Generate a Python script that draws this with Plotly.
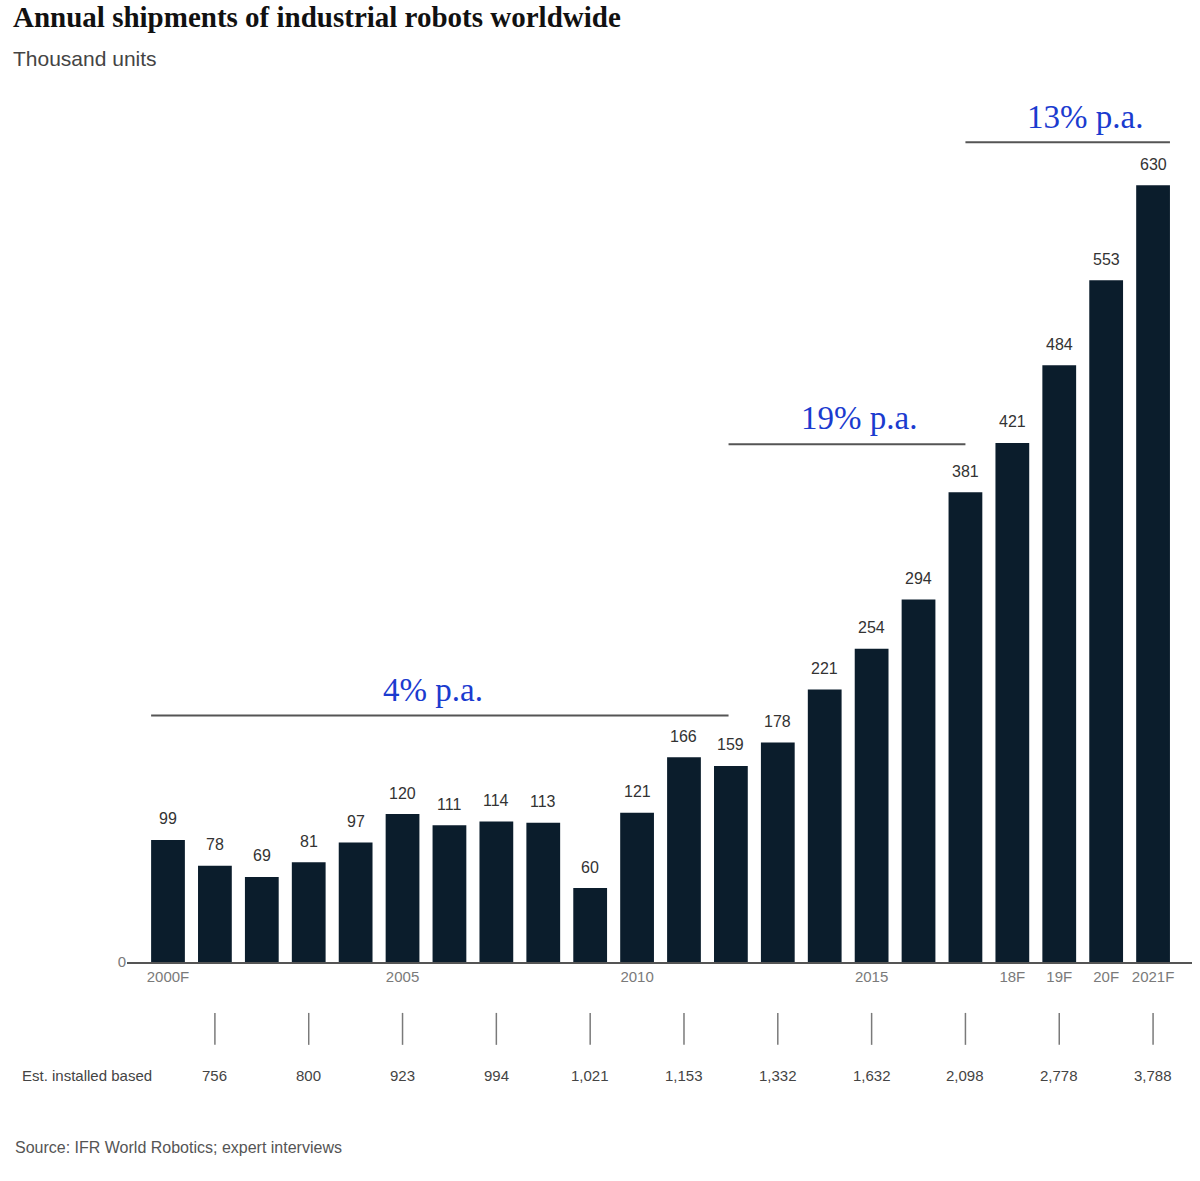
import plotly.graph_objects as go

# ---------------- data ----------------
years = list(range(2000, 2022))
shipments = [99, 78, 69, 81, 97, 120, 111, 114, 113, 60, 121, 166, 159, 178,
             221, 254, 294, 381, 421, 484, 553, 630]
tick_years = [2000, 2005, 2010, 2015, 2018, 2019, 2020, 2021]
tick_labels = ["2000F", "2005", "2010", "2015", "18F", "19F", "20F", "2021F"]

base_years = [2001, 2003, 2005, 2007, 2009, 2011, 2013, 2015, 2017, 2019, 2021]
base_values = ["756", "800", "923", "994", "1,021", "1,153", "1,332", "1,632",
               "2,098", "2,778", "3,788"]

growth_labels = ["4% p.a.", "19% p.a.", "13% p.a."]
growth_start = [2000, 2012, 2017]
growth_end = [2012, 2017, 2021]

# ---------------- style ----------------
BAR = "#0b1d2c"
BLUE = "#1b3bcf"
LINE = "#555555"
GREY = "#7a7a7a"
SANS = "Liberation Sans, Arial, sans-serif"
SERIF = "Liberation Serif, Times New Roman, serif"

fig = go.Figure()
fig.add_trace(go.Bar(
    x=years, y=shipments, width=0.72,
    marker=dict(color=BAR, line=dict(width=0)),
    hoverinfo="x+y",
))

# value labels above bars
for yr, v in zip(years, shipments):
    fig.add_annotation(x=yr, y=v, xref="x", yref="y", text=str(v),
                       showarrow=False, yanchor="middle", yshift=21,
                       font=dict(family=SANS, size=16, color="#333333"))

# growth-rate brackets
line_y = [200, 420, 665]
label_y = [221, 441, 685]
label_x = [2005.65, 2014.73, 2019.55]
line_left_pad = [0.36, 0.05, 0.0]
line_right_pad = [-0.05, 0.0, 0.36]
for lab, s, e, ly, ty, tx, lp, rp in zip(growth_labels, growth_start, growth_end,
                                          line_y, label_y, label_x,
                                          line_left_pad, line_right_pad):
    fig.add_shape(type="line", xref="x", yref="y", x0=s - lp, x1=e + rp,
                  y0=ly, y1=ly, line=dict(color=LINE, width=2))
    fig.add_annotation(x=tx, y=ty, xref="x", yref="y", text=lab,
                       showarrow=False, yanchor="middle",
                       font=dict(family=SERIF, size=33, color=BLUE))

# installed base row
for by, bv in zip(base_years, base_values):
    fig.add_shape(type="line", xref="x", yref="paper", x0=by, x1=by,
                  y0=-0.059, y1=-0.096, line=dict(color=GREY, width=1.5))
    fig.add_annotation(x=by, y=-0.131, xref="x", yref="paper", text=bv,
                       showarrow=False, yanchor="middle",
                       font=dict(family=SANS, size=15, color="#444444"))
fig.add_annotation(x=-0.1005, y=-0.131, xref="paper", yref="paper",
                   text="Est. installed based", showarrow=False,
                   xanchor="left", yanchor="middle",
                   font=dict(family=SANS, size=15, color="#444444"))

# title, subtitle, source
fig.add_annotation(x=-0.109, y=1.095, xref="paper", yref="paper",
                   text="<b>Annual shipments of industrial robots worldwide</b>",
                   showarrow=False, xanchor="left", yanchor="middle",
                   font=dict(family=SERIF, size=29, color="#111111"))
fig.add_annotation(x=-0.109, y=1.047, xref="paper", yref="paper",
                   text="Thousand units", showarrow=False,
                   xanchor="left", yanchor="middle",
                   font=dict(family=SANS, size=21, color="#444444"))
fig.add_annotation(x=-0.107, y=-0.2155, xref="paper", yref="paper",
                   text="Source: IFR World Robotics; expert interviews",
                   showarrow=False, xanchor="left", yanchor="middle",
                   font=dict(family=SANS, size=16, color="#555555"))

fig.update_layout(
    width=1200, height=1181,
    margin=dict(l=127, r=8, t=99, b=219),
    paper_bgcolor="white", plot_bgcolor="white",
    showlegend=False, bargap=0.28,
    xaxis=dict(range=[1999.126, 2021.83], tickvals=tick_years, ticktext=tick_labels,
               showgrid=False, zeroline=False, showline=True,
               linecolor=LINE, linewidth=1.5, ticks="",
               tickfont=dict(family=SANS, size=15, color=GREY)),
    yaxis=dict(range=[0, 700], tickvals=[0], ticktext=["0"], showgrid=False,
               zeroline=False, showline=False, ticks="",
               tickfont=dict(family=SANS, size=15, color=GREY)),
)

fig.write_html("out.html", config={"displayModeBar": False},
               post_script="document.body.style.margin='0';")
